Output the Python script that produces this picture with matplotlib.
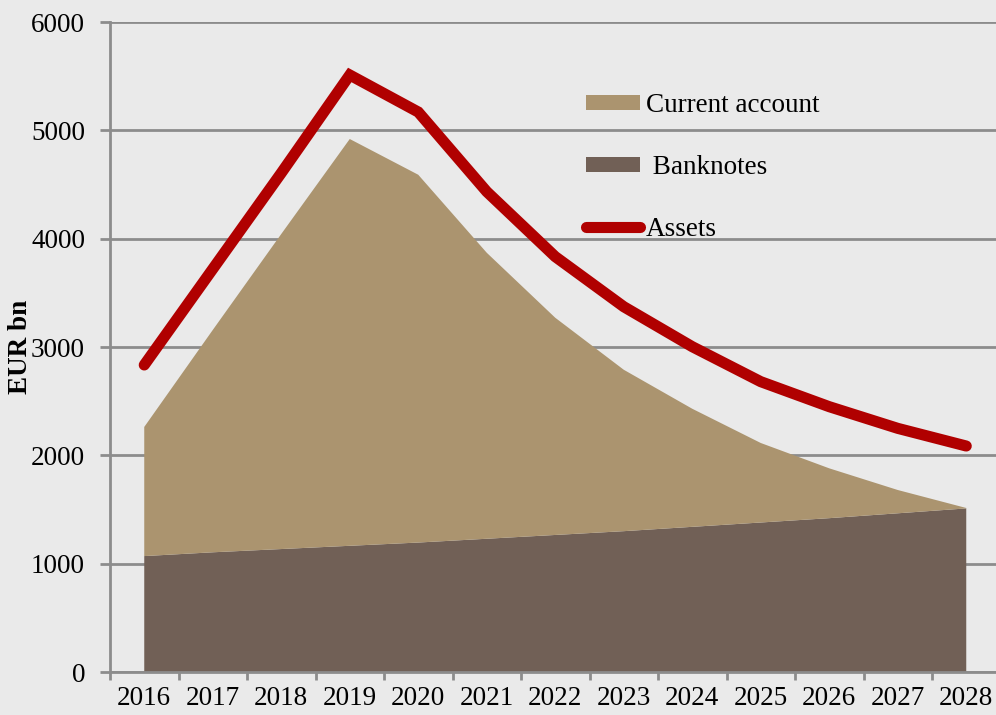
import numpy as np
import matplotlib.pyplot as plt
from matplotlib.patches import Patch
from matplotlib.lines import Line2D

plt.rcParams['font.family'] = ['Liberation Serif', 'DejaVu Serif']

years = ['2016', '2017', '2018', '2019', '2020', '2021', '2022',
         '2023', '2024', '2025', '2026', '2027', '2028']
banknotes = [1070, 1105, 1135, 1165, 1195, 1230, 1265, 1300, 1340, 1380, 1420, 1465, 1510]
current_account = [1192, 2052, 2908, 3755, 3395, 2640, 2005, 1490, 1090, 734, 460, 215, 4]
assets = [2834, 3720, 4606, 5511, 5169, 4434, 3834, 3372, 3003, 2680, 2449, 2249, 2086]

tan = '#ab946f'
brown = '#716056'
red = '#b00000'
grid_grey = '#8c8c8c'
bg = '#eaeaea'

fig = plt.figure(figsize=(9.96, 7.15), dpi=100)
fig.patch.set_facecolor(bg)
# axis runs a little past the right edge of the figure
ax = fig.add_axes([110/996, 43/715, 890.5/996, 650/715])
ax.set_facecolor(bg)

x = np.arange(len(years))
ax.stackplot(x, banknotes, current_account, colors=[brown, tan], zorder=2)
ax.plot(x, assets, color=red, lw=8, solid_capstyle='round',
        solid_joinstyle='miter', zorder=3)

ax.set_xlim(-0.5, len(years) - 0.5)
ax.set_ylim(0, 6000)
ax.set_yticks(range(0, 6001, 1000))
ax.yaxis.grid(True, color=grid_grey, lw=2, zorder=1)
ax.set_axisbelow(True)

# ticks between categories, labels on the categories
ax.set_xticks(np.arange(-0.5, len(years), 1.0))
ax.set_xticklabels([])
ax.set_xticks(x, minor=True)
ax.set_xticklabels(years, minor=True, fontsize=19.5)
ax.tick_params(axis='x', which='major', length=6, width=2, color=grid_grey, direction='out')
ax.tick_params(axis='x', which='minor', length=0, pad=10)
ax.tick_params(axis='y', length=7, width=2, color=grid_grey, labelsize=19.5, pad=11)

for side in ['top', 'right']:
    ax.spines[side].set_visible(False)
for side in ['left', 'bottom']:
    ax.spines[side].set_color(grid_grey)
    ax.spines[side].set_linewidth(2)

fig.text(21/996, 1 - 347/715, 'EUR bn', rotation=90, fontsize=19.5, fontweight='bold',
         ha='center', va='center')

handles = [Patch(facecolor=tan), Patch(facecolor=brown),
           Line2D([], [], color=red, lw=8, solid_capstyle='round')]
labels = ['Current account', ' Banknotes', 'Assets']
fig.legend(handles, labels, loc='upper left', bbox_to_anchor=(586/996, 1 - 93/715),
           frameon=False, fontsize=19.5, handlelength=2.0, handleheight=0.5,
           handletextpad=0.2, labelspacing=1.36, borderpad=0, borderaxespad=0)

fig.savefig('out.png', dpi=100, facecolor=bg)
